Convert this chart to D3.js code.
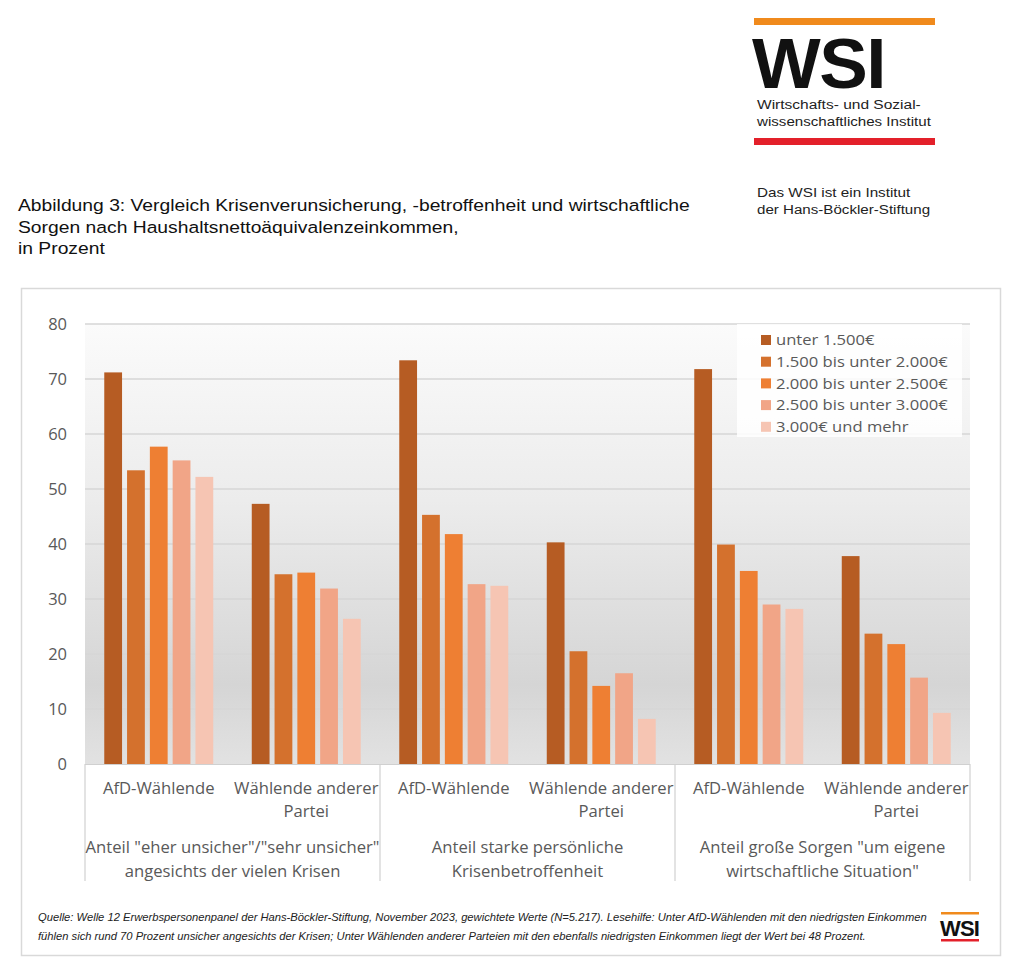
<!DOCTYPE html>
<html><head><meta charset="utf-8">
<script src="https://cdn.jsdelivr.net/npm/d3@7"></script>
<style>body{margin:0;background:#fff}svg{display:block}</style>
</head><body>
<script>
const groups = ["Anteil \"eher unsicher\"/\"sehr unsicher\"|angesichts der vielen Krisen","Anteil starke persönliche|Krisenbetroffenheit","Anteil große Sorgen \"um eigene|wirtschaftliche Situation\""];
const subCats = ["AfD-Wählende","Wählende anderer|Partei"];
const series = ["unter 1.500€","1.500 bis unter 2.000€","2.000 bis unter 2.500€","2.500 bis unter 3.000€","3.000€ und mehr"];
const colors = ["#b65c23","#d4712d","#ee7f33","#f1a587","#f6c5b3"];
const valuesUnter1500 = [71.2,47.3,73.4,40.3,71.8,37.8];
const values1500_2000 = [53.4,34.5,45.3,20.5,39.9,23.7];
const values2000_2500 = [57.7,34.8,41.8,14.2,35.1,21.8];
const values2500_3000 = [55.2,31.9,32.7,16.5,29.0,15.7];
const values3000plus = [52.2,26.4,32.4,8.2,28.2,9.3];
const yTicks = [0,10,20,30,40,50,60,70,80];

(function(){
const seriesValues = [valuesUnter1500,values1500_2000,values2000_2500,values2500_3000,values3000plus];
const categories = [];
groups.forEach((g,gi)=>subCats.forEach((s,si)=>categories.push({id:gi+"_"+si,group:gi,label:s})));

const W=1024,H=977;
const svg=d3.select("body").append("svg").attr("width",W).attr("height",H);
const arial="Liberation Sans, Arial, sans-serif";

// text helper with horizontal stretch
function stext(parent,x,y,str,opts){
  const s=opts.sx||1;
  const t=parent.append("text").attr("transform",`translate(${x},${y}) scale(${s},1)`)
    .attr("font-family",opts.font||arial).attr("font-size",opts.size||14).attr("fill",opts.fill||"#222")
    .text(str);
  if(opts.anchor) t.attr("text-anchor",opts.anchor);
  if(opts.weight) t.attr("font-weight",opts.weight);
  if(opts.italic) t.attr("font-style","italic");
  if(opts.dy) t.attr("dy",opts.dy);
  if(opts.ls) t.attr("letter-spacing",opts.ls);
  return t;
}

// ---- Header logo ----
const logo=svg.append("g");
logo.append("rect").attr("x",754).attr("y",18).attr("width",181).attr("height",7).attr("fill","#f08a1c");
stext(logo,752,88,"WSI",{size:70,weight:"bold",fill:"#111",ls:"-1.5",sx:1.04});
stext(logo,757,109,"Wirtschafts- und Sozial-",{size:13.5,sx:1.15});
stext(logo,757,126,"wissenschaftliches Institut",{size:13.5,sx:1.12});
logo.append("rect").attr("x",754).attr("y",138).attr("width",181).attr("height",7).attr("fill","#e3202a");
stext(logo,757,197,"Das WSI ist ein Institut",{size:13.5,sx:1.13});
stext(logo,757,214,"der Hans-Böckler-Stiftung",{size:13.5,sx:1.12});

// ---- Title ----
const titleLines=["Abbildung 3: Vergleich Krisenverunsicherung, -betroffenheit und wirtschaftliche","Sorgen nach Haushaltsnettoäquivalenzeinkommen,","in Prozent"];
const tg=svg.append("g");
titleLines.forEach((d,i)=>stext(tg,18,211+i*21.5,d,{size:16.5,fill:"#111",sx:1.17}));

// ---- Frame ----
svg.append("rect").attr("x",21.5).attr("y",288.5).attr("width",979).attr("height",667).attr("fill","#fff").attr("stroke","#d9d9d9").attr("stroke-width",1.5);

// ---- Plot ----
const pLeft=85,pRight=970,pTop=324,pBottom=764;
const defs=svg.append("defs");
const grad=defs.append("linearGradient").attr("id","bg").attr("x1",0).attr("y1",0).attr("x2",0).attr("y2",1);
[[0,"#fbfbfb"],[0.4,"#ececec"],[0.82,"#d5d5d5"],[1,"#e2e2e2"]].forEach(s=>grad.append("stop").attr("offset",s[0]).attr("stop-color",s[1]));
svg.append("rect").attr("x",pLeft).attr("y",pTop).attr("width",pRight-pLeft).attr("height",pBottom-pTop).attr("fill","url(#bg)");

const y=d3.scaleLinear().domain([0,80]).range([pBottom,pTop]);
const x0=d3.scaleBand().domain(categories.map(c=>c.id)).range([pLeft,pRight]).padding(0);
const x1=d3.scaleBand().domain(series).range([0,x0.bandwidth()]).paddingInner(0.22).paddingOuter(0.845);
const xg=d3.scaleBand().domain(groups).range([pLeft,pRight]).padding(0);

// grid
svg.append("g").selectAll("line").data(yTicks.filter(t=>t>0)).join("line")
  .attr("x1",pLeft).attr("x2",pRight).attr("y1",d=>y(d)).attr("y2",d=>y(d))
  .attr("stroke","#d6d6d6").attr("stroke-width",1.3);

// y axis
const yAxis=svg.append("g").attr("transform",`translate(${pLeft},0)`)
  .call(d3.axisLeft(y).tickValues(yTicks).tickSize(0).tickPadding(18));
yAxis.select(".domain").remove();
yAxis.selectAll("text").attr("font-family","Open Sans, Noto Sans, sans-serif").attr("font-size",16.5).attr("fill","#595959");

// bars
const bars=svg.append("g");
categories.forEach((c,ci)=>{
  bars.append("g").attr("transform",`translate(${x0(c.id)},0)`)
   .selectAll("rect").data(series.map((s,si)=>({s,si,v:seriesValues[si][ci]}))).join("rect")
   .attr("x",d=>x1(d.s)).attr("width",x1.bandwidth())
   .attr("y",d=>y(d.v)).attr("height",d=>y(0)-y(d.v))
   .attr("fill",d=>colors[d.si]);
});

// x axis line
svg.append("line").attr("x1",pLeft).attr("x2",pRight).attr("y1",pBottom+0.5).attr("y2",pBottom+0.5).attr("stroke","#d0d0d0").attr("stroke-width",1.2);
// separators
const seps=[pLeft].concat(groups.map(g=>xg(g)+xg.bandwidth()));
svg.append("g").selectAll("line").data(seps).join("line")
  .attr("x1",d=>d).attr("x2",d=>d).attr("y1",pBottom).attr("y2",881)
  .attr("stroke","#d0d0d0").attr("stroke-width",1.2);

const lblFont="Open Sans, Noto Sans, sans-serif";
const lab=svg.append("g");
// sub category labels
categories.forEach(c=>{
  const cx=x0(c.id)+x0.bandwidth()/2;
  c.label.split("|").forEach((ln,li)=>{
    stext(lab,cx,794+li*23,ln,{font:lblFont,size:15.5,fill:"#595959",anchor:"middle",sx:1.075});
  });
});
// group labels
groups.forEach(g=>{
  const cx=xg(g)+xg.bandwidth()/2;
  g.split("|").forEach((ln,li)=>{
    stext(lab,cx,853+li*24,ln,{font:lblFont,size:15.5,fill:"#595959",anchor:"middle",sx:1.075});
  });
});

// legend
const lg=svg.append("g");
lg.append("rect").attr("x",737).attr("y",324).attr("width",225).attr("height",113).attr("fill","#fff").attr("fill-opacity",0.85);
series.forEach((s,i)=>{
  const yy=340+i*21.7;
  lg.append("rect").attr("x",761).attr("y",yy-5).attr("width",10).attr("height",10).attr("fill",colors[i]);
  stext(lg,776,yy,s,{font:lblFont,size:15.3,fill:"#595959",dy:"0.35em",sx:1.085});
});

// footer
const foot=["Quelle: Welle 12 Erwerbspersonenpanel der Hans-Böckler-Stiftung, November 2023, gewichtete Werte (N=5.217). Lesehilfe: Unter AfD-Wählenden mit den niedrigsten Einkommen",
"fühlen sich rund 70 Prozent unsicher angesichts der Krisen; Unter Wählenden anderer Parteien mit den ebenfalls niedrigsten Einkommen liegt der Wert bei 48 Prozent."];
const fg=svg.append("g");
foot.forEach((d,i)=>stext(fg,38,921+i*18.5,d,{size:10.5,italic:true,fill:"#222",sx:1.067}));
// small logo
const sl=svg.append("g");
sl.append("rect").attr("x",941).attr("y",912).attr("width",38).attr("height",2.5).attr("fill","#f08a1c");
stext(sl,940,936,"WSI",{size:22,weight:"bold",fill:"#111",ls:"-0.8"});
sl.append("rect").attr("x",941).attr("y",939).attr("width",38).attr("height",2.5).attr("fill","#e3202a");
})();
</script>
</body></html>
